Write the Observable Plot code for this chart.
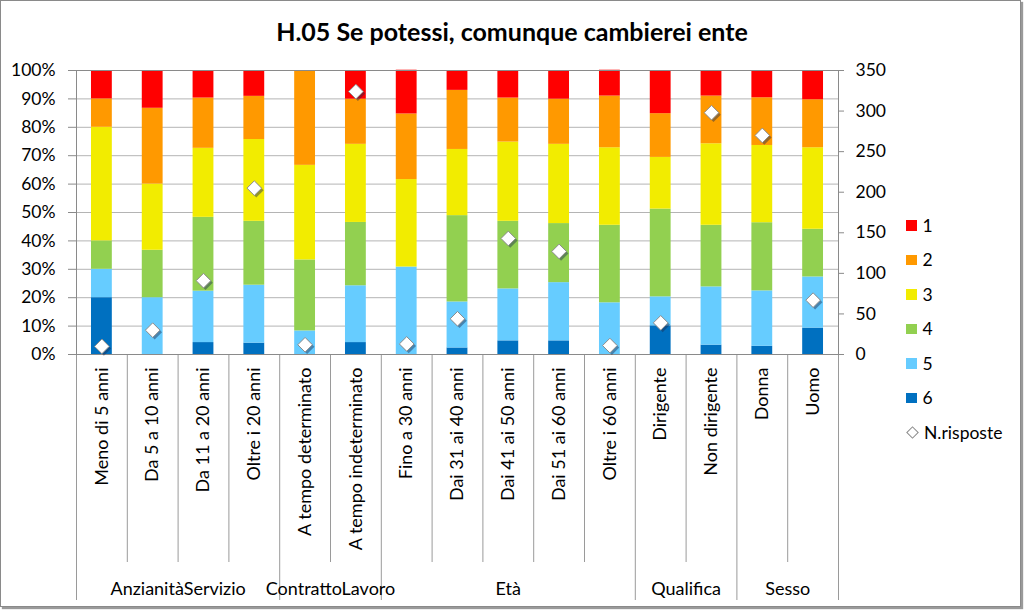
<!DOCTYPE html>
<html><head><meta charset="utf-8">
<script src="https://cdn.jsdelivr.net/npm/d3@7"></script>
<script src="https://cdn.jsdelivr.net/npm/@observablehq/plot@0.6"></script>
<style>
body{margin:0;background:#fff;font-family:Lato,"Open Sans",sans-serif;}
#wrap{position:relative;width:1024px;height:610px;overflow:hidden;background:#fff;}
#chart{position:absolute;left:0;top:0;}
#frame{position:absolute;left:0;top:0;width:1019px;height:605px;border:1px solid #8a8a8a;box-shadow:2px 2px 1px #9a9a9a;pointer-events:none;}
#title{position:absolute;top:16px;left:0;width:1024px;text-align:center;font-weight:bold;font-size:25px;line-height:30px;color:#000;}
#legend{position:absolute;left:906px;top:208px;font-size:17.5px;color:#000;}
.li{display:flex;align-items:center;height:34.5px;}
.sw{width:10.5px;height:10.5px;margin-right:6px;}
.dm{width:7px;height:7px;border:1px solid #8a8a8a;transform:rotate(45deg);margin:0 7px 0 2px;background:#fff;}
</style></head><body>
<div id="wrap"><div id="chart"></div><div id="title">H.05 Se potessi, comunque cambierei ente</div><div id="legend"></div><div id="frame"></div></div>
<script>
const categories = ["Meno di 5 anni","Da 5 a 10 anni","Da 11 a 20 anni","Oltre i 20 anni","A tempo determinato","A tempo indeterminato","Fino a 30 anni","Dai 31 ai 40 anni","Dai 41 ai 50 anni","Dai 51 ai 60 anni","Oltre i 60 anni","Dirigente","Non dirigente","Donna","Uomo"];
const groups = ["AnzianitàServizio","ContrattoLavoro","Età","Qualifica","Sesso"];
const groupSizes = [4,2,5,2,2];
const levels = ["1","2","3","4","5","6"];
const level1 = [10,13.3,9.7,9.1,0,10.1,15.4,7.0,9.7,10.1,9.1,15.2,9.0,9.6,10.3];
const level2 = [10,26.7,17.7,15.2,33.3,15.9,23.1,20.8,15.5,15.9,18.2,15.4,16.8,16.8,16.9];
const level3 = [40,23.3,24.3,28.8,33.3,27.5,30.8,23.3,27.9,27.9,27.3,18.2,28.7,27.2,28.7];
const level4 = [10,16.7,26.0,22.5,25.0,22.3,0,30.4,23.8,20.8,27.3,30.9,21.7,24.0,16.8];
const level5 = [10,20,18.1,20.4,8.3,20.0,30.8,16.2,18.3,20.5,18.2,10.2,20.5,19.5,18.0];
const level6 = [20,0,4.2,4.0,0,4.2,0,2.3,4.8,4.8,0,10.1,3.3,2.9,9.3];
const nRisposte = [10,30,91,205,12,324,13,44,143,127,11,39,298,270,67];
const seriesName = "N.risposte";
const colors = ["#FF0000","#FF9900","#F2EC00","#92D050","#66CCFF","#0070C0"];
const leftTicks = [0,10,20,30,40,50,60,70,80,90,100];
const rightTicks = [0,50,100,150,200,250,300,350];
const rightMax = 350;

const series = [level1,level2,level3,level4,level5,level6];
const table = [];
for (let j = levels.length - 1; j >= 0; j--)
  categories.forEach((c, i) => table.push({cat: c, level: levels[j], value: series[j][i]}));
const points = categories.map((c, i) => ({cat: c, n: nRisposte[i]}));

const W = 1024, H = 610, mL = 76, mR = 186, mT = 70, mB = 256;
const step = (W - mL - mR) / categories.length;
const plotH = H - mT - mB;
const below = px => -px / plotH * 100;

// separators at band boundaries (left edge of each band, plus right edge of last)
const edges = new Set([0]); let acc = 0;
groupSizes.forEach(s => { acc += s; edges.add(acc); });
const sepLeft = categories.map((c, k) => ({cat: c, long: edges.has(k)}));
const sepRight = [{cat: categories[categories.length - 1], long: true}];
// group labels: odd groups centred on middle band, even groups on boundary
const gOdd = [], gEven = []; acc = 0;
groupSizes.forEach((s, g) => {
  if (s % 2) gOdd.push({cat: categories[acc + (s - 1) / 2], label: groups[g]});
  else gEven.push({cat: categories[acc + s / 2], label: groups[g]});
  acc += s;
});

const sepStyle = {stroke: "#9a9a9a", strokeWidth: 1};
const plot = Plot.plot({
  width: W, height: H, marginLeft: mL, marginRight: mR, marginTop: mT, marginBottom: mB,
  style: {fontFamily: "Lato, 'Open Sans', sans-serif", fontSize: "17px", color: "#000", background: "transparent", overflow: "visible"},
  x: {domain: categories, paddingInner: 0.59, paddingOuter: 0.295, round: false, axis: null, label: null},
  y: {domain: [0, 100], axis: null, label: null},
  color: {domain: levels, range: colors},
  marks: [
    Plot.ruleY(leftTicks, {stroke: "#b4b4b4", strokeWidth: 1}),
    Plot.barY(table, {x: "cat", y: "value", fill: "level", order: ["6","5","4","3","2","1"]}),
    Plot.ruleX(sepLeft, {x: "cat", dx: -step / 2, y1: 0, y2: d => d.long ? below(246) : below(208), ...sepStyle}),
    Plot.ruleX(sepRight, {x: "cat", dx: step / 2, y1: 0, y2: below(246), ...sepStyle}),
    Plot.axisY(leftTicks, {anchor: "left", label: null, tickFormat: d => d + "%", tickSize: 8, tickPadding: 13, stroke: "#8a8a8a", fontSize: 17.5}),
    Plot.axisY(rightTicks.map(v => v / rightMax * 100), {anchor: "right", label: null, tickFormat: d => String(Math.round(d * rightMax / 100)), tickSize: 5, tickPadding: 12, textAnchor: "start", stroke: "#8a8a8a", fontSize: 17.5}),
    Plot.axisX({anchor: "bottom", label: null, tickRotate: -90, tickSize: 0, tickPadding: 13, fontSize: 18}),
    Plot.frame({stroke: "#8a8a8a"}),
    Plot.dot(points, {x: "cat", y: d => d.n / rightMax * 100, symbol: "diamond2", r: 6.6, fill: "#1c2c50", fillOpacity: 0.45, dx: 2, dy: 2}),
    Plot.dot(points, {x: "cat", y: d => d.n / rightMax * 100, symbol: "diamond2", r: 6.6, fill: "white", stroke: "#8c8c8c", strokeWidth: 1}),
    Plot.text(gOdd, {x: "cat", y: () => below(235), text: "label", fontSize: 18}),
    Plot.text(gEven, {x: "cat", dx: -step / 2, y: () => below(235), text: "label", fontSize: 18})
  ]
});
document.getElementById("chart").appendChild(plot);

// legend
const lg = document.getElementById("legend");
levels.forEach((l, i) => {
  const row = document.createElement("div"); row.className = "li";
  const sw = document.createElement("span"); sw.className = "sw"; sw.style.background = colors[i];
  const tx = document.createElement("span"); tx.textContent = l;
  row.appendChild(sw); row.appendChild(tx); lg.appendChild(row);
});
{
  const row = document.createElement("div"); row.className = "li";
  const dm = document.createElement("span"); dm.className = "dm";
  const tx = document.createElement("span"); tx.textContent = seriesName;
  row.appendChild(dm); row.appendChild(tx); lg.appendChild(row);
}
</script>
</body></html>
